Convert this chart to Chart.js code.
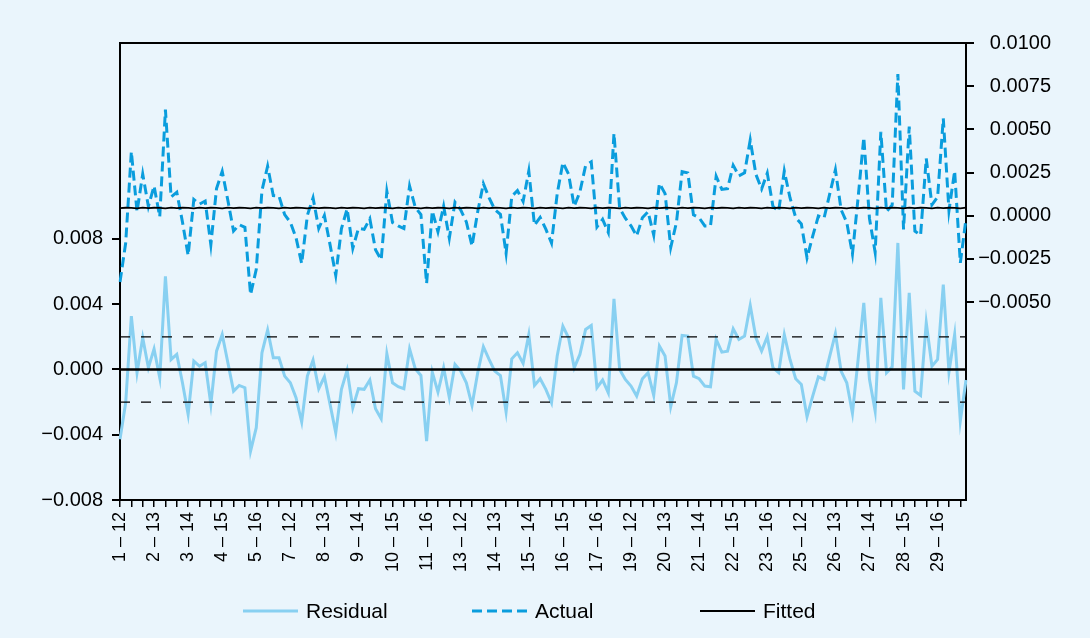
<!DOCTYPE html>
<html>
<head>
<meta charset="utf-8">
<script src="https://cdn.jsdelivr.net/npm/chart.js@4.4.1/dist/chart.umd.min.js"></script>
<style>
  html, body { margin: 0; padding: 0; background: #EAF5FC; }
  #wrap { width: 1090px; height: 638px; }
</style>
</head>
<body>
<div id="wrap"><canvas id="c" width="1090" height="638"></canvas></div>
<script>
// ---- data ----
const sections = [1,2,3,4,5,6,7,8,9,10,11,12,13,14,15,16,17,18,19,20,21,22,23,24,25,26,27,28,29,30];
const years = [12,13,14,15,16];
const categories = sections.flatMap(s => years.map(y => s + ' \u2013 ' + y));

const residual = [
-0.00428,-0.00204,0.00326,-0.00020,0.00194,0.00010,0.00126,-0.00051,0.00571,0.00061,
0.00092,-0.00082,-0.00275,0.00051,0.00020,0.00041,-0.00214,0.00112,0.00214,0.00041,
-0.00133,-0.00098,-0.00112,-0.00500,-0.00357,0.00102,0.00241,0.00071,0.00071,-0.00041,
-0.00082,-0.00173,-0.00322,-0.00041,0.00057,-0.00118,-0.00045,-0.00214,-0.00388,-0.00122,
-0.00004,-0.00235,-0.00118,-0.00122,-0.00065,-0.00241,-0.00302,0.00096,-0.00082,-0.00106,
-0.00118,0.00126,0.00004,-0.00037,-0.00439,-0.00016,-0.00139,0.00010,-0.00173,0.00031,
-0.00010,-0.00082,-0.00220,-0.00020,0.00139,0.00061,-0.00010,-0.00037,-0.00261,0.00065,
0.00102,0.00037,0.00214,-0.00098,-0.00057,-0.00122,-0.00204,0.00082,0.00265,0.00194,
0.00010,0.00092,0.00245,0.00269,-0.00112,-0.00065,-0.00143,0.00432,0.00000,-0.00061,
-0.00102,-0.00163,-0.00057,-0.00020,-0.00159,0.00143,0.00082,-0.00228,-0.00082,0.00208,
0.00204,-0.00041,-0.00057,-0.00102,-0.00106,0.00184,0.00106,0.00112,0.00249,0.00184,
0.00204,0.00392,0.00194,0.00112,0.00200,0.00010,-0.00020,0.00214,0.00061,-0.00057,
-0.00092,-0.00290,-0.00163,-0.00045,-0.00061,0.00082,0.00220,-0.00010,-0.00082,-0.00269,
0.00061,0.00408,-0.00061,-0.00255,0.00439,-0.00020,0.00016,0.00775,-0.00122,0.00469,
-0.00133,-0.00159,0.00286,0.00020,0.00061,0.00520,-0.00016,0.00214,-0.00316,-0.00065
];

const actual = [
-0.00384,-0.00158,0.00371,0.00023,0.00241,0.00054,0.00172,-0.00006,0.00614,0.00108,
0.00136,-0.00036,-0.00230,0.00094,0.00067,0.00085,-0.00168,0.00157,0.00257,0.00088,
-0.00089,-0.00052,-0.00067,-0.00457,-0.00310,0.00146,0.00287,0.00116,0.00114,0.00006,
-0.00038,-0.00127,-0.00277,0.00002,0.00104,-0.00074,0.00001,-0.00169,-0.00345,-0.00075,
0.00040,-0.00189,-0.00073,-0.00079,-0.00018,-0.00197,-0.00256,0.00141,-0.00039,-0.00059,
-0.00074,0.00172,0.00049,0.00006,-0.00392,0.00028,-0.00093,0.00055,-0.00130,0.00078,
0.00034,-0.00036,-0.00175,0.00023,0.00186,0.00105,0.00036,0.00008,-0.00218,0.00112,
0.00146,0.00083,0.00259,-0.00055,-0.00010,-0.00078,-0.00158,0.00127,0.00308,0.00241,
0.00054,0.00138,0.00290,0.00312,-0.00065,-0.00021,-0.00097,0.00477,0.00043,-0.00014,
-0.00058,-0.00117,-0.00012,0.00023,-0.00112,0.00187,0.00128,-0.00183,-0.00039,0.00255,
0.00248,0.00005,-0.00012,-0.00059,-0.00059,0.00228,0.00152,0.00157,0.00292,0.00231,
0.00248,0.00438,0.00239,0.00155,0.00247,0.00054,0.00026,0.00259,0.00104,-0.00010,
-0.00048,-0.00244,-0.00118,-0.00002,-0.00014,0.00126,0.00266,0.00035,-0.00039,-0.00222,
0.00105,0.00454,-0.00016,-0.00212,0.00486,0.00024,0.00062,0.00820,-0.00079,0.00516,
-0.00089,-0.00113,0.00331,0.00063,0.00108,0.00564,0.00030,0.00259,-0.00273,-0.00018
];

const fitted = [
0.00044,0.00046,0.00045,0.00043,0.00047,0.00044,0.00046,0.00045,0.00043,0.00047,
0.00044,0.00046,0.00045,0.00043,0.00047,0.00044,0.00046,0.00045,0.00043,0.00047,
0.00044,0.00046,0.00045,0.00043,0.00047,0.00044,0.00046,0.00045,0.00043,0.00047,
0.00044,0.00046,0.00045,0.00043,0.00047,0.00044,0.00046,0.00045,0.00043,0.00047,
0.00044,0.00046,0.00045,0.00043,0.00047,0.00044,0.00046,0.00045,0.00043,0.00047,
0.00044,0.00046,0.00045,0.00043,0.00047,0.00044,0.00046,0.00045,0.00043,0.00047,
0.00044,0.00046,0.00045,0.00043,0.00047,0.00044,0.00046,0.00045,0.00043,0.00047,
0.00044,0.00046,0.00045,0.00043,0.00047,0.00044,0.00046,0.00045,0.00043,0.00047,
0.00044,0.00046,0.00045,0.00043,0.00047,0.00044,0.00046,0.00045,0.00043,0.00047,
0.00044,0.00046,0.00045,0.00043,0.00047,0.00044,0.00046,0.00045,0.00043,0.00047,
0.00044,0.00046,0.00045,0.00043,0.00047,0.00044,0.00046,0.00045,0.00043,0.00047,
0.00044,0.00046,0.00045,0.00043,0.00047,0.00044,0.00046,0.00045,0.00043,0.00047,
0.00044,0.00046,0.00045,0.00043,0.00047,0.00044,0.00046,0.00045,0.00043,0.00047,
0.00044,0.00046,0.00045,0.00043,0.00047,0.00044,0.00046,0.00045,0.00043,0.00047,
0.00044,0.00046,0.00045,0.00043,0.00047,0.00044,0.00046,0.00045,0.00043,0.00047
];

const seriesNames = ['Residual', 'Actual', 'Fitted'];
const leftTicksShown = [-0.008, 0.008];     // range of labelled left ticks
const rightTicksShown = [-0.005, 0.010];    // range of labelled right ticks
const refLines = [0, 0.002, -0.002];

// ---- styles ----
const BG = '#EAF5FC';
const RES_COLOR = '#88D0F1';
const ACT_COLOR = '#0A9DDD';
const FONT = "'Liberation Sans', Arial, Helvetica, sans-serif";

function fmt(v, d) {
  if (Math.abs(v) < 1e-12) v = 0;
  return v.toFixed(d).replace('-', '\u2212');
}

const bgPlugin = {
  id: 'bg',
  beforeDraw(chart) {
    const ctx = chart.ctx;
    ctx.save();
    ctx.fillStyle = BG;
    ctx.fillRect(0, 0, chart.width, chart.height);
    ctx.restore();
  }
};

const refPlugin = {
  id: 'refs',
  afterDatasetsDraw(chart) {
    const {ctx, chartArea: a, scales} = chart;
    ctx.save();
    refLines.forEach(v => {
      const y = scales.y.getPixelForValue(v);
      ctx.beginPath();
      if (v === 0) { ctx.setLineDash([]); ctx.lineWidth = 2.4; }
      else { ctx.setLineDash([10, 11]); ctx.lineWidth = 1.2; }
      ctx.strokeStyle = '#000';
      ctx.moveTo(a.left, y);
      ctx.lineTo(a.right, y);
      ctx.stroke();
    });
    ctx.setLineDash([]);
    ctx.lineWidth = 2;
    ctx.beginPath();
    ctx.moveTo(a.left - 1, a.top);
    ctx.lineTo(a.right + 1, a.top);
    ctx.stroke();
    ctx.restore();
  }
};

const legendPlugin = {
  id: 'customLegend',
  afterDraw(chart) {
    const ctx = chart.ctx;
    const y = 611;
    const starts = [243, 472, 700];
    const styles = [
      {color: RES_COLOR, width: 3, dash: []},
      {color: ACT_COLOR, width: 3, dash: [10, 5]},
      {color: '#000', width: 1.8, dash: []}
    ];
    ctx.save();
    seriesNames.forEach((name, i) => {
      const s = styles[i];
      ctx.beginPath();
      ctx.setLineDash(s.dash);
      ctx.lineWidth = s.width;
      ctx.strokeStyle = s.color;
      ctx.moveTo(starts[i], y);
      ctx.lineTo(starts[i] + 55, y);
      ctx.stroke();
      ctx.setLineDash([]);
      ctx.fillStyle = '#000';
      ctx.font = '21px ' + FONT;
      ctx.textBaseline = 'middle';
      ctx.textAlign = 'left';
      ctx.fillText(name, starts[i] + 63, y + 1);
    });
    ctx.restore();
  }
};

new Chart(document.getElementById('c'), {
  type: 'line',
  data: {
    labels: categories,
    datasets: [
      { label: seriesNames[2], data: fitted, yAxisID: 'y1', borderColor: '#000', borderWidth: 1.8,
        pointRadius: 0, tension: 0, order: 1 },
      { label: seriesNames[1], data: actual, yAxisID: 'y1', borderColor: ACT_COLOR, borderWidth: 3,
        borderDash: [10, 5], pointRadius: 0, tension: 0, order: 2 },
      { label: seriesNames[0], data: residual, yAxisID: 'y', borderColor: RES_COLOR, borderWidth: 3,
        pointRadius: 0, tension: 0, order: 3 }
    ]
  },
  options: {
    responsive: false,
    animation: false,
    events: [],
    layout: { padding: { left: 0, right: 39, top: 43, bottom: 0 } },
    plugins: { legend: { display: false }, tooltip: { enabled: false } },
    scales: {
      x: {
        type: 'category',
        offset: false,
        afterFit(s) { s.height = 138; },
        grid: {
          drawOnChartArea: false, drawTicks: true, tickLength: 7, lineWidth: 1.5,
          color: c => (c.index % 2 === 0 ? '#000' : 'rgba(0,0,0,0)')
        },
        border: { display: true, color: '#000', width: 2 },
        ticks: {
          autoSkip: false, minRotation: 90, maxRotation: 90, padding: 5,
          color: '#000', font: { family: FONT, size: 18 },
          callback: (v, i) => (i % 6 === 0 ? categories[i] : '')
        }
      },
      y: {
        position: 'left',
        min: -0.008, max: 0.020,
        afterFit(s) { s.width = 120; },
        afterBuildTicks(s) {
          s.ticks = s.ticks.filter(t => t.value >= leftTicksShown[0] - 1e-9 && t.value <= leftTicksShown[1] + 1e-9);
        },
        grid: { drawOnChartArea: false, drawTicks: true, tickLength: 8, lineWidth: 2, color: '#000' },
        border: { display: true, color: '#000', width: 2 },
        ticks: {
          stepSize: 0.004, padding: 9, color: '#000', font: { family: FONT, size: 20 },
          callback: v => fmt(v, 3)
        }
      },
      y1: {
        position: 'right',
        min: -0.01646, max: 0.010,
        afterFit(s) { s.width = 85; },
        afterBuildTicks(s) {
          s.ticks = s.ticks.filter(t => t.value >= rightTicksShown[0] - 1e-9 && t.value <= rightTicksShown[1] + 1e-9);
        },
        grid: { drawOnChartArea: false, drawTicks: true, tickLength: 8, lineWidth: 2, color: '#000' },
        border: { display: true, color: '#000', width: 2 },
        ticks: {
          stepSize: 0.0025, crossAlign: 'far', color: '#000', font: { family: FONT, size: 20 },
          callback: v => fmt(v, 4)
        }
      }
    }
  },
  plugins: [bgPlugin, refPlugin, legendPlugin]
});
</script>
</body>
</html>
